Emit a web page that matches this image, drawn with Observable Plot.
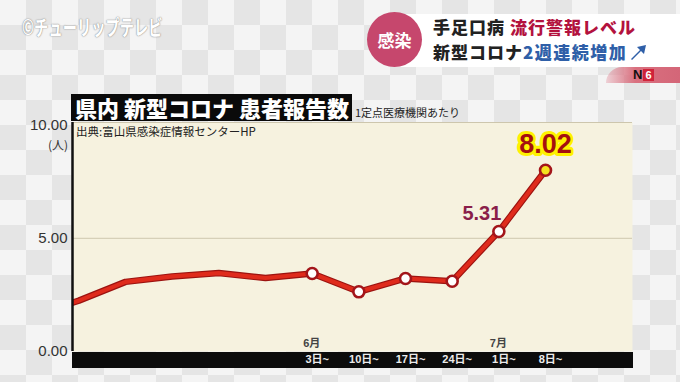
<!DOCTYPE html>
<html>
<head>
<meta charset="utf-8">
<script src="https://cdn.jsdelivr.net/npm/d3@7"></script>
<script src="https://cdn.jsdelivr.net/npm/@observablehq/plot@0.6"></script>
<style>
  html, body { margin: 0; padding: 0; }
  body { width: 680px; height: 382px; overflow: hidden; font-family: "Liberation Sans", "Noto Sans CJK JP", sans-serif; }
  #stage {
    position: relative; width: 680px; height: 382px; overflow: hidden;
    background: repeating-conic-gradient(#e5e5e5 0 25%, #f4f4f4 0 50%) 0 0 / 52px 50px;
  }
  #chart { position: absolute; left: 0; top: 0; z-index: 2; }
  .abs { position: absolute; z-index: 3; white-space: nowrap; }
  #band { position: absolute; left: 72px; top: 352px; width: 561px; height: 16px; background: #0c0c0c; z-index: 1; }
  #wm { left: 22px; top: 14px; font: bold 21px "Noto Sans CJK JP"; line-height: 24px; color: #fff;
    text-shadow: 0 0 2px #8f8f8f, 0 0 1px #8f8f8f; transform: scaleX(0.68); transform-origin: 0 0; }
  #banner { left: 395px; top: 14px; width: 285px; height: 53px; background: #fff; z-index: 3; }
  #circle { left: 367px; top: 12px; width: 55px; height: 55px; border-radius: 50%; background: #c6476d; color: #fff;
    font: bold 17px "Noto Sans CJK JP"; text-align: center; line-height: 55px; z-index: 4; }
  #l1 { left: 433px; top: 17px; font: 900 17px "Noto Sans CJK JP"; color: #222; line-height: 20px; height: 20px; letter-spacing: 1px; }
  #l2 { left: 433px; top: 42px; font: 900 17px "Noto Sans CJK JP"; color: #222; line-height: 20px; height: 20px; letter-spacing: 1px; }
  #l2 span { letter-spacing: 1.5px; }
  #tab { left: 606px; top: 67px; width: 74px; height: 16px; border-top-left-radius: 16px;
    background: linear-gradient(to right, rgba(225,140,155,.35), #d9707f 40%, #d46678); }
  #tabtxt { left: 633px; top: 67px; font: 900 13px "Liberation Sans"; line-height: 16px; color: #111; }
  #tabtxt span { background: #d0243a; color: #fff; padding: 0 2px; margin-left: 1px; font-size: 11px; }
  #title { left: 71px; top: 94px; width: 281px; height: 27px; background: #0a0a0a; color: #fff;
    font: 900 22px "Noto Sans CJK JP"; line-height: 27px; padding-left: 4px; box-sizing: border-box; }
  #per { left: 355px; top: 105px; font: 11px "Noto Sans CJK JP"; color: #222; line-height: 14px; }
  #src { left: 76px; top: 124px; font: 11.5px "Noto Sans CJK JP"; color: #222; line-height: 14px; }
  #unit { left: 48px; top: 137px; font: 12px "Noto Sans CJK JP"; color: #333; line-height: 16px; }
</style>
</head>
<body>
<div id="stage">
  <div id="band"></div>
  <div id="chart"></div>
  <div class="abs" id="wm">©チューリップテレビ</div>
  <div class="abs" id="banner"></div>
  <div class="abs" id="circle">感染</div>
  <div class="abs" id="l1">手足口病 <span style="color:#b3123e">流行警報レベル</span></div>
  <div class="abs" id="l2">新型コロナ<span style="color:#2f5fa8">2週連続増加</span><svg width="18" height="16" viewBox="0 0 18 16" style="vertical-align:-1px;margin-left:2px"><path d="M2 15 L11 6 L8 3 L17 1 L15 10 L12 7 L3 16 Z" fill="#2f5fa8"/></svg></div>
  <div class="abs" id="tab"></div>
  <div class="abs" id="tabtxt">N<span>6</span></div>
  <div class="abs" id="title">県内 新型コロナ 患者報告数</div>
  <div class="abs" id="per">1定点医療機関あたり</div>
  <div class="abs" id="src">出典:富山県感染症情報センターHP</div>
  <div class="abs" id="unit">(人)</div>
</div>
<script>
// weekly data (week starting dates), values per sentinel medical institution
const weeks = ["4/22", "4/29", "5/6", "5/13", "5/20", "5/27", "6/3", "6/10", "6/17", "6/24", "7/1", "7/8"];
const values = [1.6, 2.25, 3.08, 3.32, 3.47, 3.25, 3.45, 2.64, 3.23, 3.11, 5.31, 8.02];
const dayLabels = ["3日~", "10日~", "17日~", "24日~", "1日~", "8日~"];
const dayWeeks = ["6/3", "6/10", "6/17", "6/24", "7/1", "7/8"];
const monthLabels = ["6月", "7月"];
const monthWeeks = ["6/3", "7/1"];
const markedWeeks = ["6/3", "6/10", "6/17", "6/24", "7/1", "7/8"];
const yTicks = [0, 5, 10];

const data = weeks.map((w, i) => ({i, week: w, value: values[i]}));
const idx = w => weeks.indexOf(w);
const markers = data.filter(d => markedWeeks.includes(d.week));
const last = data[data.length - 1];
const dayTicks = dayWeeks.map(idx);
const months = monthWeeks.map((w, k) => ({i: idx(w), label: monthLabels[k]}));
const xDomain = [0.864, 12.864];
const yMax = 10.13;

const chart = Plot.plot({
  width: 680,
  height: 382,
  marginLeft: 72,
  marginRight: 48,
  marginTop: 122,
  marginBottom: 31,
  x: {type: "linear", domain: xDomain, axis: null},
  y: {domain: [0, yMax], axis: null},
  style: {background: "transparent", fontFamily: "'Liberation Sans','Noto Sans CJK JP',sans-serif", overflow: "visible"},
  marks: [
    Plot.frame({fill: "#f6f2df", stroke: null}),
    Plot.ruleY([5], {stroke: "#d6d0b8", strokeWidth: 1.2}),
    Plot.ruleY([yMax], {stroke: "#cdc6ad", strokeWidth: 1}),
    Plot.axisY({ticks: yTicks, tickFormat: d3.format(".2f"), tickSize: 0, tickPadding: 5, fontSize: 15, color: "#333", label: null}),
    Plot.axisX({ticks: dayTicks, tickFormat: d => dayLabels[dayTicks.indexOf(d)], tickSize: 0, tickPadding: 4, fontSize: 11, fontWeight: "bold", color: "#ececec", dx: 5, label: null}),
    Plot.text(months, {x: "i", y: 0, text: "label", dx: -9, dy: -8, textAnchor: "start", fontSize: 11, fontWeight: "bold", fill: "#444"}),
    Plot.line(data, {x: "i", y: "value", stroke: "#9c1310", strokeWidth: 6.5, strokeLinejoin: "round", clip: true}),
    Plot.line(data, {x: "i", y: "value", stroke: "#df2b1c", strokeWidth: 4.2, strokeLinejoin: "round", clip: true}),
    Plot.dot(markers, {x: "i", y: "value", r: 5.5, fill: d => d.week === last.week ? "#f4e11e" : "#ffffff", stroke: "#a3151a", strokeWidth: 2.6}),
    Plot.ruleX([xDomain[0]], {stroke: "#111", strokeWidth: 2.5}),
    Plot.text(data.filter(d => d.week === "7/1"), {x: "i", y: "value", text: d => d3.format(".2f")(d.value), dx: -17, dy: -18, fontSize: 20, fontWeight: "bold", fill: "#8a1f4a"}),
    Plot.text([last], {x: "i", y: "value", text: d => d3.format(".2f")(d.value), dx: 0, dy: -26, fontSize: 27, fontWeight: "bold", fill: "#a50f0f", stroke: "#fff200", strokeWidth: 6, strokeLinejoin: "round", paintOrder: "stroke"})
  ]
});
document.getElementById("chart").appendChild(chart);
</script>
</body>
</html>
